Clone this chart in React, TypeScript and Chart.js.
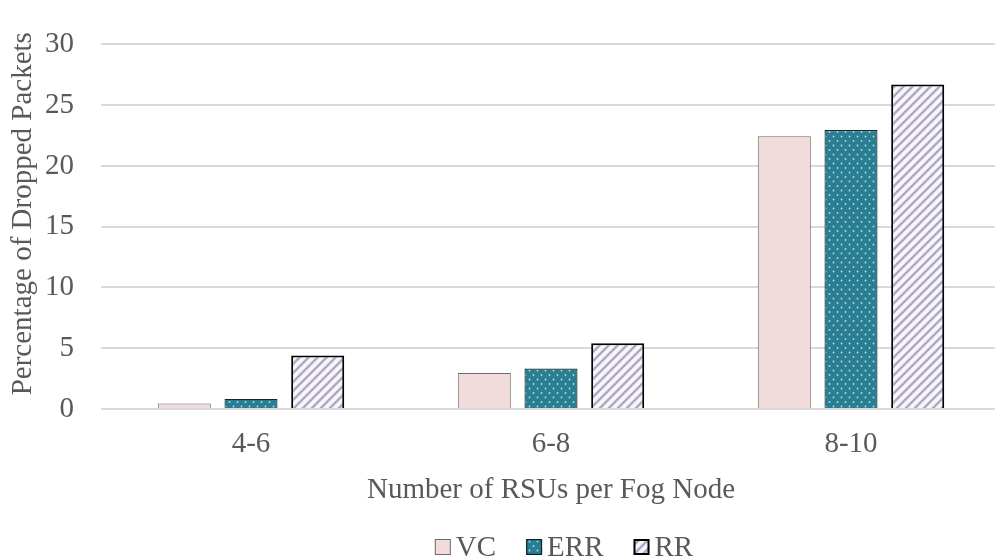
import React, { useEffect, useRef } from "react";
import { Chart, registerables } from "chart.js";

Chart.register(...registerables);

const categories = ["4-6", "6-8", "8-10"];
const vcValues = [0.46, 2.97, 22.45];
const errValues = [0.83, 3.33, 22.95];
const rrValues = [4.4, 5.4, 26.7];
const seriesNames = ["VC", "ERR", "RR"];
const yTicks = [0, 5, 10, 15, 20, 25, 30];
const xTitle = "Number of RSUs per Fog Node";
const yTitle = "Percentage of Dropped Packets";

const FONT = "'Liberation Serif', 'Times New Roman', serif";
const FONT_SIZE = 29;
const TEXT = "#595959";

function makeDots(): CanvasPattern | string {
  const w = 8;
  const h = 9;
  const c = document.createElement("canvas");
  c.width = w;
  c.height = h;
  const g = c.getContext("2d");
  if (!g) return "#2b7d92";
  g.fillStyle = "#2b7d92";
  g.fillRect(0, 0, w, h);
  g.fillStyle = "#a6e3ec";
  g.beginPath();
  g.arc(1.5, 1.5, 0.9, 0, Math.PI * 2);
  g.arc(5.5, 6, 0.9, 0, Math.PI * 2);
  g.fill();
  return g.createPattern(c, "repeat") || "#2b7d92";
}

function makeStripes(): CanvasPattern | string {
  const s = 9;
  const c = document.createElement("canvas");
  c.width = s;
  c.height = s;
  const g = c.getContext("2d");
  if (!g) return "#e8e4f0";
  g.fillStyle = "#f8f5fc";
  g.fillRect(0, 0, s, s);
  g.strokeStyle = "#b0abc0";
  g.lineWidth = 2.5;
  g.beginPath();
  for (let k = -1; k <= 1; k++) {
    g.moveTo(k * s - 1, s + 1);
    g.lineTo(k * s + s + 1, -1);
  }
  g.stroke();
  return g.createPattern(c, "repeat") || "#e8e4f0";
}

const legendPlugin = {
  id: "customLegend",
  afterDraw(chart: any) {
    const ctx = chart.ctx as CanvasRenderingContext2D;
    const ds = chart.data.datasets;
    const area = chart.chartArea;
    ctx.save();
    ctx.font = `${FONT_SIZE}px ${FONT}`;

    // y-axis title
    ctx.save();
    ctx.translate(23, (area.top + area.bottom) / 2 - 13);
    ctx.rotate(-Math.PI / 2);
    ctx.fillStyle = TEXT;
    ctx.textAlign = "center";
    ctx.textBaseline = "middle";
    ctx.fillText(yTitle, 0, 0);
    ctx.restore();

    // legend
    const box = 16;
    const gapText = 5;
    const gapItem = 30;
    const widths = ds.map((d: any) => box + gapText + ctx.measureText(d.label).width);
    const total = widths.reduce((a: number, b: number) => a + b, 0) + gapItem * (ds.length - 1);
    const center = (area.left + area.right) / 2 + 13;
    let x = center - total / 2;
    const baseline = chart.height - 4;
    const boxTop = baseline - 17;
    ds.forEach((d: any, i: number) => {
      ctx.fillStyle = d.backgroundColor;
      ctx.fillRect(x, boxTop, box, box);
      ctx.strokeStyle = d.borderColor;
      ctx.lineWidth = d.borderWidth;
      const inset = d.borderWidth / 2;
      ctx.strokeRect(x + inset, boxTop + inset, box - d.borderWidth, box - d.borderWidth);
      ctx.fillStyle = TEXT;
      ctx.textBaseline = "alphabetic";
      ctx.textAlign = "left";
      ctx.fillText(d.label, x + box + gapText, baseline);
      x += widths[i] + gapItem;
    });
    ctx.restore();
  },
};

export default function App() {
  const ref = useRef<HTMLCanvasElement | null>(null);

  useEffect(() => {
    document.body.style.margin = "0";
    document.body.style.overflow = "hidden";
    const canvas = ref.current;
    if (!canvas) return;
    const dots = makeDots();
    const stripes = makeStripes();
    const chart = new Chart(canvas, {
      type: "bar",
      data: {
        labels: categories,
        datasets: [
          {
            label: seriesNames[0],
            data: vcValues,
            backgroundColor: "#f2dcdb",
            borderColor: "#6e6a6a",
            borderWidth: 1,
          },
          {
            label: seriesNames[1],
            data: errValues,
            backgroundColor: dots as any,
            borderColor: "#10262c",
            borderWidth: 1.2,
          },
          {
            label: seriesNames[2],
            data: rrValues,
            backgroundColor: stripes as any,
            borderColor: "#000000",
            borderWidth: 2,
          },
        ],
      },
      plugins: [legendPlugin],
      options: {
        responsive: false,
        animation: false,
        layout: { padding: { top: 22, right: 0, bottom: 51, left: 0 } },
        datasets: {
          bar: { categoryPercentage: 0.667, barPercentage: 0.795 },
        },
        plugins: {
          tooltip: { enabled: false },
          legend: { display: false },
        },
        scales: {
          x: {
            afterFit: (axis: any) => {
              axis.height = 100;
            },
            grid: { display: false },
            border: { display: false },
            ticks: {
              font: { family: FONT, size: FONT_SIZE },
              color: TEXT,
              padding: 10,
            },
            title: {
              display: true,
              text: xTitle,
              font: { family: FONT, size: FONT_SIZE },
              color: TEXT,
              padding: { top: 0, bottom: 1 },
            },
          },
          y: {
            min: 0,
            max: 30,
            afterFit: (axis: any) => {
              axis.width = 101;
            },
            afterBuildTicks: (axis: any) => {
              axis.ticks = yTicks.map((v) => ({ value: v }));
            },
            grid: {
              color: "#d9d9d9",
              lineWidth: 2,
              drawTicks: false,
            },
            border: { display: false },
            ticks: {
              font: { family: FONT, size: FONT_SIZE },
              color: TEXT,
              padding: 27,
            },
            title: { display: false },
          },
        },
      },
    });
    return () => chart.destroy();
  }, []);

  return (
    <div style={{ width: 995, height: 560, overflow: "hidden" }}>
      <canvas ref={ref} width={1001} height={560} style={{ display: "block" }} />
    </div>
  );
}
